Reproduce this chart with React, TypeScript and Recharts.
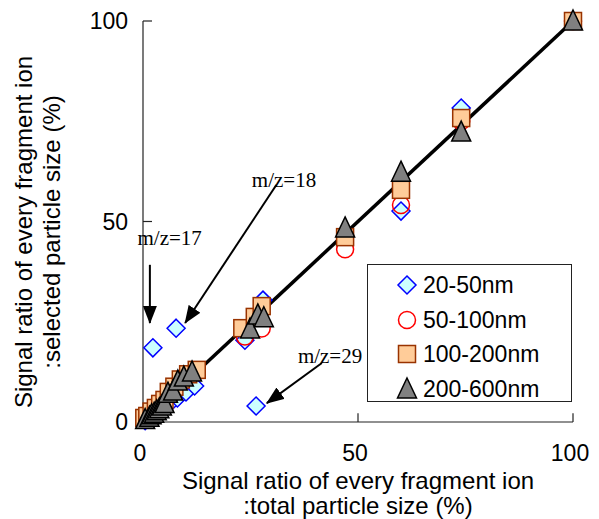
import React from 'react';
import {
  ScatterChart,
  Scatter,
  XAxis,
  YAxis,
  ReferenceLine,
  ReferenceDot,
  Legend,
} from 'recharts';

// axis ticks
const xTicks = [0, 50, 100];
const yTicks = [0, 50, 100];

// series names
const seriesNames = ['20-50nm', '50-100nm', '100-200nm', '200-600nm'];

// [x, y] pairs (%)
const nm20to50 = [
  [0.5, 0.3], [1.5, 1], [3, 2], [4.5, 3.3], [6, 4.5], [8, 6], [10, 7.5], [12, 9],
  [2.3, 18.5], [7.7, 23.4], [26.3, 4], [23.7, 20.4], [27.9, 30.4],
  [60, 52.6], [74, 78.3],
];
const nm50to100 = [
  [23.7, 21.3], [27.6, 23.3], [47, 43.1], [60, 54.1], [74, 75], [100, 100],
];
const nm100to200 = [
  [0.3, 1], [1, 1.5], [2, 2.6], [3, 3.5], [4, 4.5], [5, 5.5], [6, 7.5], [7.3, 8.8],
  [8.8, 10.6], [10.5, 11.9], [12.5, 13], [23.1, 23.4], [26, 26.2], [27.6, 28.9],
  [47, 46.1], [60, 57.9], [74, 75.8], [100, 100],
];
const nm200to600 = [
  [0.5, 0.6], [1.5, 1.2], [2, 1.8], [2.6, 2.2], [3.2, 2.8], [3.8, 3.3], [4.4, 4], [5, 4.6],
  [5.8, 7.2], [7, 7.7], [8.1, 10.2], [9.5, 11.2], [11.4, 12.5], [24.9, 23.2],
  [26.7, 26.7], [28.1, 26], [47, 48.4], [60, 62.3], [74, 72.3], [100, 100],
];

// y = x reference line
const diagonal = [[0, 0], [100, 100]];

// annotations: label position, arrow start, arrow end
const notes = [
  { text: 'm/z=17', at: [6.2, 46.1], from: [1.6, 39.2], to: [1.6, 24.7] },
  { text: 'm/z=18', at: [32.8, 60.6], from: [31, 59.1], to: [9.8, 24.7] },
  { text: 'm/z=29', at: [43.5, 16.5], from: [41.6, 14.7], to: [28.8, 4.7] },
];

const pts = (arr: number[][]) => arr.map(([x, y]) => ({ x, y }));

const Diamond = ({ cx, cy }: any) => (
  <path
    d={`M${cx},${cy - 9}L${cx + 9},${cy}L${cx},${cy + 9}L${cx - 9},${cy}Z`}
    fill="#ccffff"
    stroke="#0000ff"
    strokeWidth={1.5}
  />
);

const Circle = ({ cx, cy }: any) => (
  <circle cx={cx} cy={cy} r={8.5} fill="none" stroke="#ff0000" strokeWidth={1.5} />
);

const Square = ({ cx, cy }: any) => (
  <rect x={cx - 8.5} y={cy - 8.5} width={17} height={17} fill="#ffcc99" stroke="#993300" strokeWidth={1.5} />
);

const Triangle = ({ cx, cy }: any) => (
  <path
    d={`M${cx},${cy - 11}L${cx + 9.5},${cy + 9}L${cx - 9.5},${cy + 9}Z`}
    fill="#808080"
    stroke="#000"
    strokeWidth={1.5}
  />
);

const shapes = [Diamond, Circle, Square, Triangle];

const XTitle = ({ viewBox }: any) => {
  const cx = viewBox.x + viewBox.width / 2;
  return (
    <text textAnchor="middle" fontFamily="Liberation Sans, Arial, sans-serif" fontSize={24} fill="#000">
      <tspan x={cx} y={489}>Signal ratio of every fragment ion</tspan>
      <tspan x={cx} y={514}>:total particle size (%)</tspan>
    </text>
  );
};

const YTitle = () => (
  <text
    textAnchor="middle"
    fontFamily="Liberation Sans, Arial, sans-serif"
    fontSize={24}
    fill="#000"
    transform="translate(0,232) rotate(-90)"
  >
    <tspan x={0} y={32}>Signal ratio of every fragment ion</tspan>
    <tspan x={0} y={60}>:selected particle size (%)</tspan>
  </text>
);

const LegendBox = () => (
  <div
    style={{
      position: 'absolute',
      left: 0,
      top: 0,
      width: 205,
      height: 138,
      boxSizing: 'border-box',
      border: '1px solid #222',
      background: '#fff',
    }}
  >
    {seriesNames.map((name, i) => {
      const Shape = shapes[i];
      return (
        <div
          key={name}
          style={{ position: 'absolute', left: 28, top: 20 + i * 34.5 - 13, height: 26, display: 'flex', alignItems: 'center' }}
        >
          <svg width={24} height={26}>
            <Shape cx={11} cy={13} />
          </svg>
          <span
            style={{
              marginLeft: 3,
              fontFamily: 'Liberation Sans, Arial, sans-serif',
              fontSize: 23,
              color: '#000',
              lineHeight: '26px',
            }}
          >
            {name}
          </span>
        </div>
      );
    })}
  </div>
);

const Arrow = ({ x1, y1, x2, y2 }: any) => (
  <line x1={x1} y1={y1} x2={x2} y2={y2} stroke="#000" strokeWidth={2} markerEnd="url(#arrowHead)" />
);

export default function App() {
  const series = [nm20to50, nm50to100, nm100to200, nm200to600];
  return (
    <div style={{ position: 'absolute', left: 0, top: 0, background: '#fff' }}>
      <ScatterChart width={599} height={519} margin={{ top: 21, right: 26, bottom: 17, left: 43 }}>
        <defs>
          <marker
            id="arrowHead"
            markerUnits="userSpaceOnUse"
            markerWidth={18}
            markerHeight={14}
            refX={17}
            refY={7}
            orient="auto"
          >
            <path d="M0,0 L18,7 L0,14 Z" fill="#000" />
          </marker>
        </defs>
        <XAxis
          type="number"
          dataKey="x"
          domain={[0, 100]}
          ticks={xTicks}
          height={80}
          tickSize={0}
          tickMargin={23}
          axisLine={{ stroke: '#222', strokeWidth: 1.2 }}
          tick={{ fill: '#000', fontSize: 23, fontFamily: 'Liberation Sans, Arial, sans-serif', dx: -3 }}
          label={<XTitle />}
        />
        <YAxis
          type="number"
          dataKey="y"
          domain={[0, 100]}
          ticks={yTicks}
          width={100}
          tickSize={0}
          tickMargin={15}
          axisLine={{ stroke: '#222', strokeWidth: 1.2 }}
          tick={{ fill: '#000', fontSize: 23, fontFamily: 'Liberation Sans, Arial, sans-serif' }}
          label={<YTitle />}
        />
        {/* inward tick marks */}
        {yTicks.slice(1).map((t) => (
          <ReferenceLine key={`yt${t}`} segment={[{ x: 0, y: t }, { x: 2.1, y: t }]} stroke="#222" strokeWidth={1.2} />
        ))}
        {xTicks.slice(1).map((t) => (
          <ReferenceLine key={`xt${t}`} segment={[{ x: t, y: 0 }, { x: t, y: 2.2 }]} stroke="#222" strokeWidth={1.2} />
        ))}
        <Scatter
          data={pts(diagonal)}
          line={{ stroke: '#000', strokeWidth: 3.5 }}
          shape={() => <g />}
          legendType="none"
          isAnimationActive={false}
        />
        {series.map((s, i) => (
          <Scatter
            key={seriesNames[i]}
            name={seriesNames[i]}
            data={pts(s)}
            shape={shapes[i]}
            isAnimationActive={false}
          />
        ))}
        {notes.map((n) => (
          <ReferenceLine
            key={`a${n.text}`}
            segment={[{ x: n.from[0], y: n.from[1] }, { x: n.to[0], y: n.to[1] }]}
            shape={Arrow}
          />
        ))}
        {notes.map((n) => (
          <ReferenceDot
            key={`t${n.text}`}
            x={n.at[0]}
            y={n.at[1]}
            r={0}
            shape={({ cx, cy }: any) => (
              <text
                x={cx}
                y={cy}
                dy="0.36em"
                textAnchor="middle"
                fontFamily="Liberation Serif, serif"
                fontSize={21}
                fill="#000"
              >
                {n.text}
              </text>
            )}
          />
        ))}
        <Legend
          content={<LegendBox />}
          wrapperStyle={{ position: 'absolute', left: 367, top: 264, width: 0, height: 0 }}
        />
      </ScatterChart>
    </div>
  );
}
